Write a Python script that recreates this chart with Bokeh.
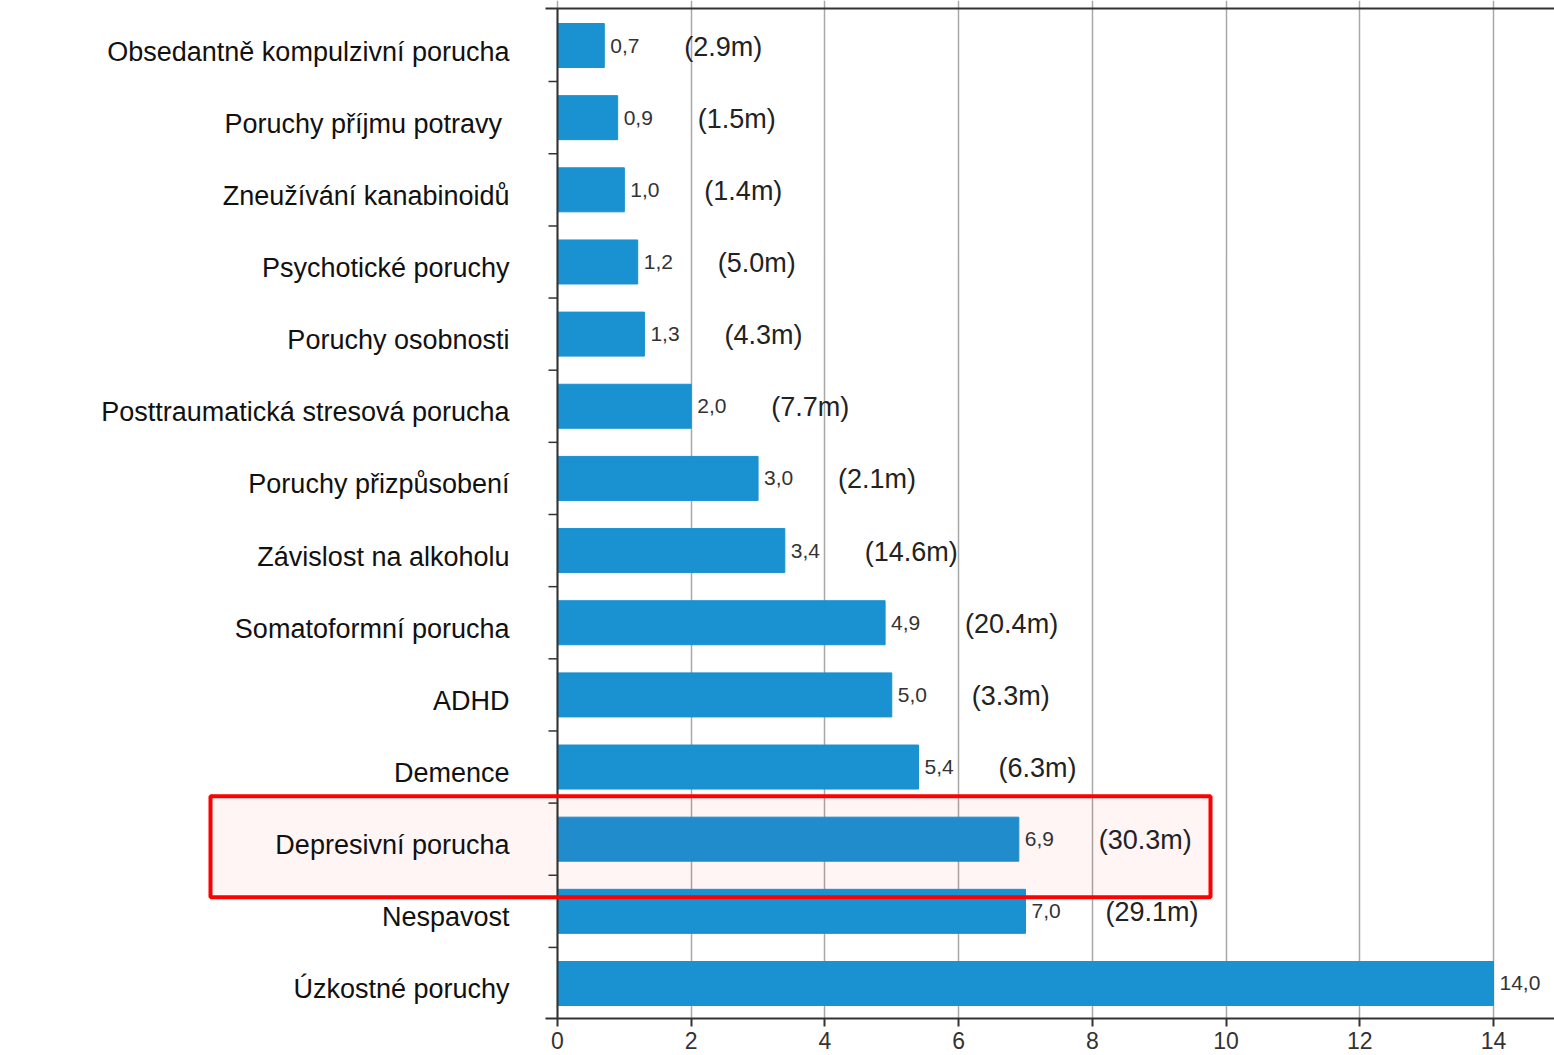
from bokeh.plotting import figure
from bokeh.models import ColumnDataSource, FixedTicker, Range1d, BoxAnnotation
from bokeh.embed import file_html
from bokeh.resources import INLINE
from bokeh.core.properties import value

categories = [
    "Obsedantně kompulzivní porucha",
    "Poruchy příjmu  potravy",
    "Zneužívání kanabinoidů",
    "Psychotické poruchy",
    "Poruchy osobnosti",
    "Posttraumatická stresová porucha",
    "Poruchy přizpůsobení",
    "Závislost na alkoholu",
    "Somatoformní porucha",
    "ADHD",
    "Demence",
    "Depresivní porucha",
    "Nespavost",
    "Úzkostné poruchy",
]
values = [0.7, 0.9, 1.0, 1.2, 1.3, 2.0, 3.0, 3.4, 4.9, 5.0, 5.4, 6.9, 7.0, 14.0]
value_labels = ["0,7", "0,9", "1,0", "1,2", "1,3", "2,0", "3,0", "3,4", "4,9", "5,0", "5,4", "6,9", "7,0", "14,0"]
population_labels = ["(2.9m)", "(1.5m)", "(1.4m)", "(5.0m)", "(4.3m)", "(7.7m)", "(2.1m)", "(14.6m)",
                     "(20.4m)", "(3.3m)", "(6.3m)", "(30.3m)", "(29.1m)", ""]
x_ticks = [0, 2, 4, 6, 8, 10, 12, 14]
highlight = "Depresivní porucha"

FONT = value("Liberation Sans")
BAR = "#1a91d0"
BAR_HL = "#218ccb"
AXIS = "#333333"

n = len(categories)
ypos = [n - 1 - i for i in range(n)]
colors = [BAR_HL if c == highlight else BAR for c in categories]
src = ColumnDataSource(dict(y=ypos, v=values, vl=value_labels, pl=population_labels,
                            cat=categories, color=colors, zero=[0] * n))

# layout of the frame (pixels -> data)
W, H = 1554, 1055
PX_X = 66.857          # pixels per x unit
PX_Y = 72.15           # pixels per category
x_start, x_end = -557 / PX_X, (W - 557) / PX_X
y_start, y_end = -35 / PX_Y, (n - 1) + 45 / PX_Y
y_top_line = (n - 1) + 37 / PX_Y
stub = 12 / PX_X       # small extension of the axis lines left of zero

p = figure(width=W, height=H, output_backend="svg", toolbar_location=None,
           x_range=Range1d(x_start, x_end), y_range=Range1d(y_start, y_end),
           y_axis_location=None,
           min_border_left=0, min_border_top=0, min_border_right=0, min_border_bottom=37)
p.outline_line_color = None
p.background_fill_color = "white"

# highlight box (fill, behind the bars)
hy = ypos[categories.index(highlight)]
box_kw = dict(left=(210 - 557) / PX_X, right=(1210 - 557) / PX_X,
              bottom=hy - 58 / PX_Y, top=hy + 43 / PX_Y)
p.add_layout(BoxAnnotation(**box_kw, level="underlay", fill_color="#ff0000", fill_alpha=0.04,
                           line_color=None))

# grid
p.ygrid.visible = False
p.xgrid.ticker = FixedTicker(ticks=x_ticks)
p.xgrid.grid_line_color = "#a8a8a8"
p.xgrid.grid_line_width = 1.5

# bars
p.hbar(y="y", left=0, right="v", height=0.61, fill_color="color", line_color="color", source=src)

# axis lines and category-boundary ticks (left axis drawn at x = 0)
p.line(x=[0, 0], y=[y_start, y_top_line], line_color=AXIS, line_width=2)
p.line(x=[-stub, x_end], y=[y_top_line, y_top_line], line_color=AXIS, line_width=2)
bounds = [k + 0.5 for k in range(-1, n - 1)]
p.segment(x0=[0] * len(bounds), y0=bounds, x1=[-9 / PX_X] * len(bounds), y1=bounds,
          line_color=AXIS, line_width=1.5)

# category labels
p.text(x="zero", y="y", text="cat", x_offset=-48, y_offset=6, text_align="right",
       text_baseline="middle", text_font=FONT, text_font_size="27px", text_color="#111111", source=src)

# value labels
p.text(x="v", y="y", text="vl", x_offset=6, text_baseline="middle", text_align="left",
       text_font=FONT, text_font_size="21px", text_color="#333333", source=src)
p.text(x="v", y="y", text="pl", x_offset=80, y_offset=1, text_baseline="middle", text_align="left",
       text_font=FONT, text_font_size="27px", text_color="#222222", source=src)

# x axis
p.xaxis.ticker = FixedTicker(ticks=x_ticks)
p.xaxis.bounds = (-stub, x_end)
p.xaxis.axis_line_color = AXIS
p.xaxis.axis_line_width = 2
p.xaxis.major_tick_line_color = AXIS
p.xaxis.major_tick_line_width = 2
p.xaxis.major_tick_out = 8
p.xaxis.major_tick_in = 0
p.xaxis.minor_tick_line_color = None
p.xaxis.major_label_standoff = 5
p.xaxis.major_label_text_font = "Liberation Sans"
p.xaxis.major_label_text_font_size = "23px"
p.xaxis.major_label_text_color = AXIS

# highlight box border (above the bars)
p.add_layout(BoxAnnotation(**box_kw, fill_alpha=0, line_color="#ff0000", line_alpha=1.0, line_width=4))

open("out.html", "w").write(file_html(p, INLINE))
